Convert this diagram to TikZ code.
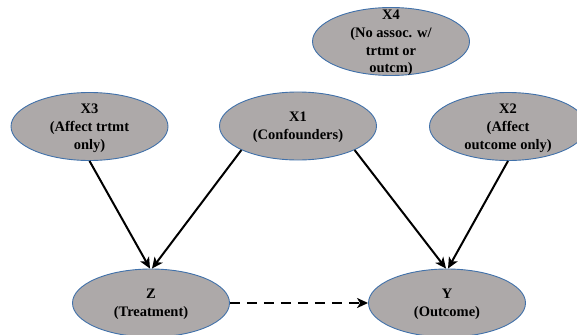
\documentclass[tikz,border=0pt]{standalone}
\usepackage{fontspec}
\setmainfont{Liberation Serif}
\usetikzlibrary{shapes.geometric,arrows.meta}
\definecolor{ellfill}{RGB}{173,169,169}
\definecolor{ellline}{RGB}{65,113,170}
\tikzset{
  ell/.style={ellipse, draw=ellline, line width=0.9pt, fill=ellfill,
    minimum width=157pt, minimum height=68pt, inner sep=0pt},
  txt/.style={align=center, inner sep=0pt, yshift=-1.5pt,
    font=\fontsize{14.5}{17.8}\selectfont\bfseries},
  arr/.style={line width=2pt, -{Stealth[length=11pt,width=10pt,inset=3pt]}},
  darr/.style={arr, dash pattern=on 10pt off 7pt}
}
\begin{document}
\begin{tikzpicture}[x=1pt,y=-1pt]
\useasboundingbox (0,0) rectangle (577,334);
\clip (0,0) rectangle (577,334);
\node[ell, label={[txt]center:{X4\\(No assoc. w/\\trtmt or\\outcm)}}] (X4) at (391,41.5) {};
\node[ell, label={[txt]center:{X3\\(Affect trtmt\\only)}}] (X3) at (89.5,126.5) {};
\node[ell, label={[txt]center:{X1\\(Confounders)}}] (X1) at (298,126) {};
\node[ell, label={[txt]center:{X2\\(Affect\\outcome only)}}] (X2) at (508,126.5) {};
\node[ell, label={[txt]center:{Z\\(Treatment)}}] (Z) at (151,303) {};
\node[ell, label={[txt]center:{Y\\(Outcome)}}] (Y) at (447,303) {};
\draw[arr] (X3.south) -- ([xshift=-1pt]Z.north);
\draw[arr] (X1.203) -- ([xshift=1pt]Z.north);
\draw[arr] (X1.-23) -- ([xshift=-1pt]Y.north);
\draw[arr] (X2.south) -- ([xshift=1pt]Y.north);
\draw[darr] (Z.east) -- (Y.west);
\end{tikzpicture}
\end{document}
